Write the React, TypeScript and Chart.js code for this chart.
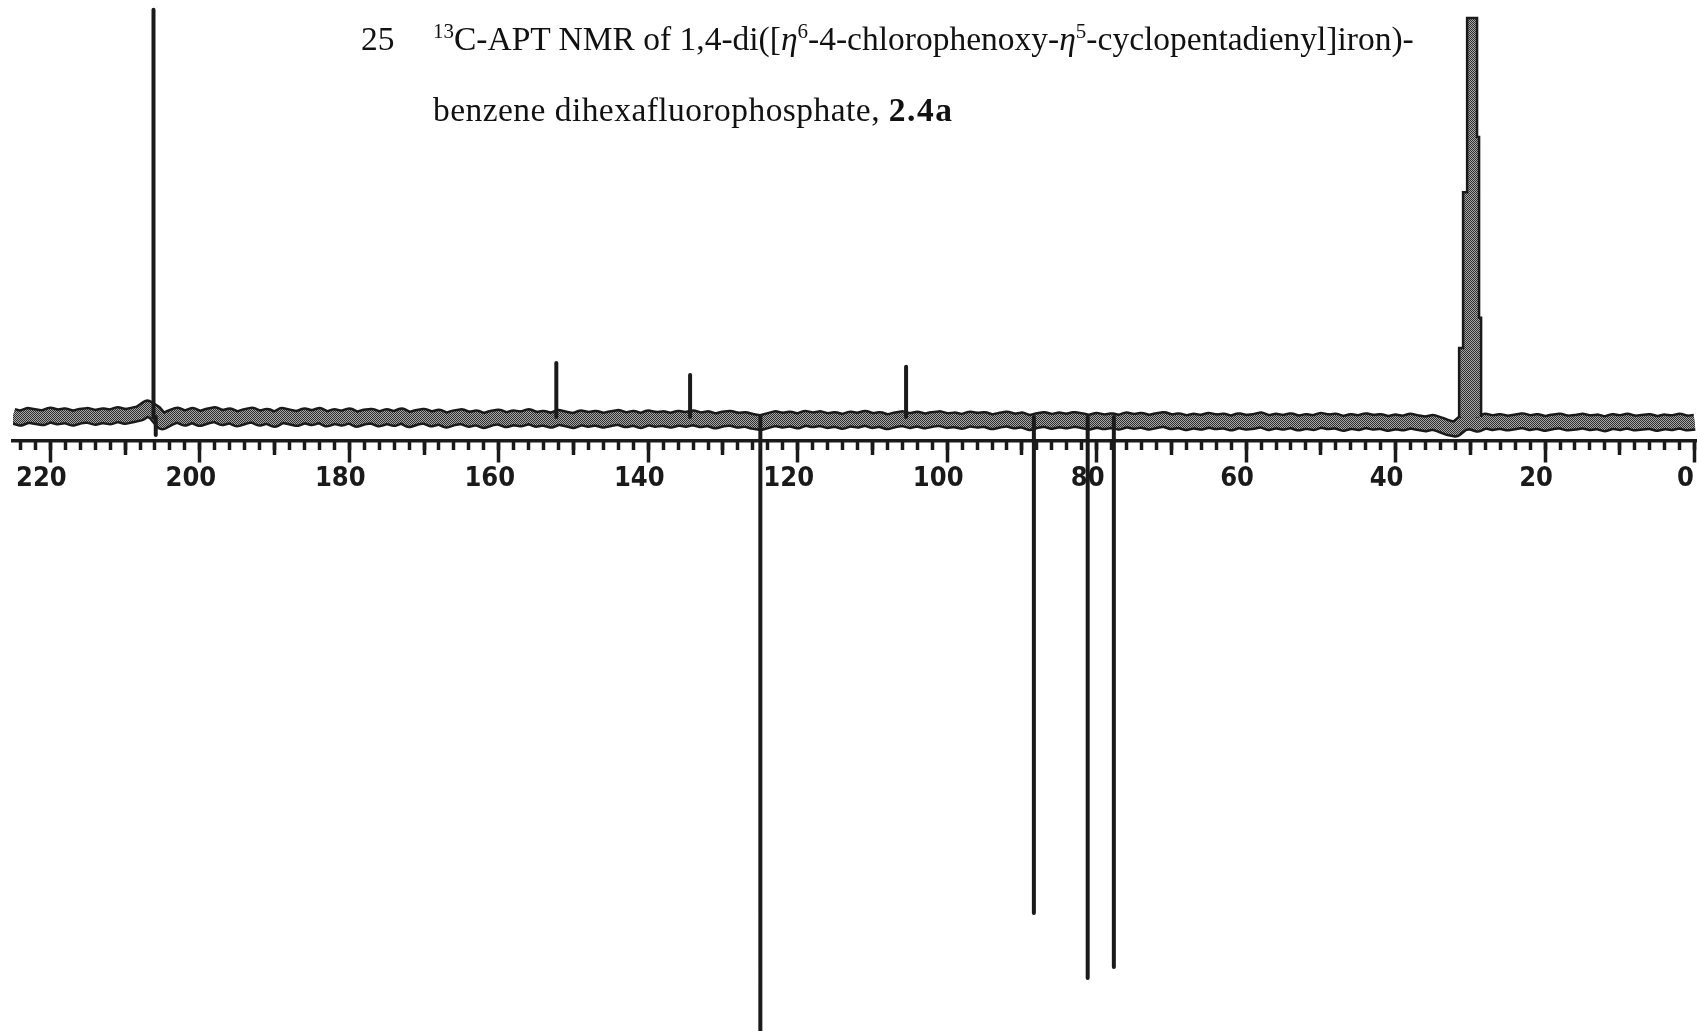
import React, { useEffect, useRef } from 'react';
import { Chart, registerables } from 'chart.js';

Chart.register(...registerables);

const WIDTH = 1697;
const HEIGHT = 1031;
const INK = '#1a1a1a';

// Chemical-shift window (ppm), plotted high field to the right
const PPM_MIN = -0.33;
const PPM_MAX = 225;
// Vertical intensity window and the level where the ppm axis is drawn
const Y_MIN = -150.5;
const Y_MAX = 102.2;
const AXIS_Y = -5.8;

// APT resonances: quaternary C up, CH down
const peakShifts = [206.2, 205.9, 152.3, 134.4, 125.0, 105.5, 88.4, 81.2, 77.7];
const peakIntensities = [99.8, -4.4, 13.2, 10.3, -155, 12.3, -121.6, -137.5, -134.8];

// acetone-d6 CD3 septet, drawn as a stepped envelope
const septetShift = [31.5, 31.5, 30.97, 30.43, 29.1, 28.83, 28.56];
const septetIntensity = [0, 16.9, 55.1, 97.8, 68.6, 24.3, 0];

// baseline trace, one reading per ppm from 225 down to 0
const baselinePpmStart = 225;
const baselineLevels = [
  0.2, -0.3, 0.4, 0.1, -0.2, 0.5, 0.0, 0.3, -0.3, 0.2,
  0.4, -0.1, 0.3, 0.0, 0.6, 0.1, 0.5, 0.9, 2.2, 1.0,
  -1.2, -0.2, 0.5, -0.3, 0.4, -0.4, 0.2, 0.6, -0.2, 0.3,
  -0.5, 0.1, 0.5, -0.3, 0.2, -0.6, 0.4, 0.0, -0.4, 0.3,
  -0.2, 0.4, -0.5, 0.1, -0.3, 0.3, -0.6, 0.0, 0.2, -0.5,
  0.1, -0.4, 0.3, -0.7, -0.1, 0.2, -0.5, 0.0, -0.8, -0.2,
  0.1, -0.6, -0.2, -0.9, -0.3, 0.0, -0.7, -0.2, -0.5, 0.1,
  -0.6, -0.3, -0.8, -0.1, -0.5, -0.9, -0.2, -0.6, -0.3, -0.8,
  -0.4, -0.1, -0.7, -0.3, -0.9, -0.2, -0.6, -0.4, -0.8, -0.3,
  -0.6, -0.2, -0.7, -0.4, -1.0, -0.5, -0.3, -0.8, -0.6, -1.1,
  -1.4, -0.9, -0.4, -0.8, -0.5, -1.0, -0.3, -0.7, -0.4, -0.9,
  -0.6, -1.1, -0.5, -0.8, -0.3, -0.9, -0.6, -1.2, -0.7, -0.4,
  -0.9, -0.5, -1.0, -0.6, -0.4, -0.9, -0.7, -1.1, -0.5, -0.8,
  -0.6, -1.2, -0.8, -0.5, -1.0, -0.7, -1.4, -0.9, -0.6, -1.1,
  -0.7, -1.0, -0.6, -0.9, -1.3, -0.8, -1.2, -0.9, -1.3, -0.7,
  -1.1, -0.8, -1.3, -0.9, -0.6, -1.2, -0.9, -1.4, -1.0, -1.3,
  -0.8, -1.2, -1.0, -1.5, -0.9, -1.3, -1.1, -0.7, -1.4, -1.0,
  -1.3, -0.9, -1.5, -1.1, -1.4, -0.8, -1.2, -1.0, -1.6, -1.1,
  -1.4, -0.9, -1.3, -1.1, -1.6, -1.2, -1.5, -1.0, -1.4, -1.7,
  -1.3, -1.9, -2.6, -3.0, -1.5, -1.2, -1.8, -1.0, -1.4, -1.1,
  -1.5, -1.2, -0.9, -1.4, -1.1, -1.6, -1.2, -1.0, -1.5, -1.3,
  -1.0, -1.4, -1.2, -1.7, -1.1, -1.4, -1.0, -1.5, -1.3, -1.1,
  -1.6, -1.2, -1.4, -1.0, -1.5, -1.3,
];

// ppm axis ticks
const majorTicks = [0, 20, 40, 60, 80, 100, 120, 140, 160, 180, 200, 220];
const midTicks = [10, 30, 50, 70, 90, 110, 130, 150, 170, 190, 210];
const minorTicks = Array.from({ length: 113 }, (_, i) => i * 2);

// grey plotter-pen stipple used for the thick trace
function makeStipple(): CanvasPattern | string {
  const c = document.createElement('canvas');
  c.width = 4;
  c.height = 4;
  const g = c.getContext('2d');
  if (!g) return '#777';
  g.fillStyle = '#a8a8a8';
  g.fillRect(0, 0, 4, 4);
  g.fillStyle = '#2e2e2e';
  const dots = [[0, 0], [2, 0], [1, 1], [3, 1], [0, 2], [2, 2], [3, 3], [1, 3]];
  dots.forEach(([x, y]) => g.fillRect(x, y, 1, 1));
  return g.createPattern(c, 'repeat') || '#777';
}

function tickAxis(ticks: number[], length: number, showLabels: boolean) {
  return {
    type: 'linear' as const,
    min: PPM_MIN,
    max: PPM_MAX,
    reverse: true,
    position: { y: AXIS_Y },
    afterBuildTicks: (axis: any) => {
      axis.ticks = ticks.map((value) => ({ value }));
    },
    grid: {
      display: true,
      drawOnChartArea: false,
      drawTicks: true,
      tickLength: length,
      tickWidth: 3.5,
      tickColor: INK,
    },
    border: { display: showLabels, color: INK, width: 3.5 },
    ticks: {
      display: showLabels,
      autoSkip: false,
      maxRotation: 0,
      minRotation: 0,
      padding: 2,
      labelOffset: -9,
      color: INK,
      font: {
        family: '"DejaVu Sans Condensed", "Liberation Sans Narrow", "DejaVu Sans", sans-serif',
        weight: 'bold' as const,
        size: 27,
      },
      callback: (v: any) => String(v),
    },
  };
}

export default function App() {
  const ref = useRef<HTMLCanvasElement>(null);

  useEffect(() => {
    const canvas = ref.current;
    if (!canvas) return;
    const stipple = makeStipple();

    const baseline = baselineLevels.map((y, i) => ({ x: baselinePpmStart - i, y }));
    const peakData: { x: number; y: number | null }[] = [];
    peakShifts.forEach((s, i) => {
      peakData.push({ x: s, y: 0 }, { x: s, y: peakIntensities[i] }, { x: s, y: null });
    });
    const septet = septetShift.map((x, i) => ({ x, y: septetIntensity[i] }));

    const chart = new Chart(canvas, {
      type: 'line',
      data: {
        datasets: [
          {
            data: peakData as any,
            borderColor: INK,
            borderWidth: 4,
            borderCapStyle: 'round',
            pointRadius: 0,
            spanGaps: false,
            order: 1,
          },
          {
            data: septet,
            stepped: 'before',
            borderColor: INK,
            borderWidth: 2.5,
            backgroundColor: stipple as any,
            fill: 'origin',
            pointRadius: 0,
            order: 2,
          },
          {
            data: baseline,
            borderColor: stipple as any,
            borderWidth: 12,
            borderJoinStyle: 'round',
            pointRadius: 0,
            order: 3,
          },
          {
            data: baseline,
            borderColor: INK,
            borderWidth: 17,
            borderJoinStyle: 'round',
            pointRadius: 0,
            order: 4,
          },
        ],
      },
      options: {
        responsive: false,
        animation: false,
        devicePixelRatio: 1,
        events: [],
        layout: { padding: { left: 13, right: 0, top: 0, bottom: 0 } },
        plugins: {
          legend: { display: false },
          tooltip: { enabled: false },
          title: { display: false },
        },
        scales: {
          x: tickAxis(majorTicks, 20, true) as any,
          xMid: tickAxis(midTicks, 14, false) as any,
          xMinor: tickAxis(minorTicks, 9, false) as any,
          y: { type: 'linear', min: Y_MIN, max: Y_MAX, display: false },
        },
      },
    });
    return () => chart.destroy();
  }, []);

  const titleFont: React.CSSProperties = {
    position: 'absolute',
    fontFamily: '"Liberation Serif", "Times New Roman", serif',
    fontSize: 33.5,
    lineHeight: '33px',
    color: '#111',
    whiteSpace: 'nowrap',
  };
  const supStyle: React.CSSProperties = { fontSize: 21, verticalAlign: '0.55em', lineHeight: 0 };

  return (
    <div style={{ position: 'absolute', left: 0, top: 0, width: WIDTH, height: HEIGHT, background: '#fff', overflow: 'hidden' }}>
      <canvas ref={ref} width={WIDTH} height={HEIGHT} style={{ position: 'absolute', left: 0, top: 0 }} />
      <div style={{ ...titleFont, left: 361, top: 22 }}>25</div>
      <div style={{ ...titleFont, left: 433, top: 22 }}>
        <span style={supStyle}>13</span>C-APT NMR of 1,4-di([<i>η</i>
        <span style={supStyle}>6</span>-4-chlorophenoxy-<i>η</i>
        <span style={supStyle}>5</span>-cyclopentadienyl]iron)-
      </div>
      <div style={{ ...titleFont, left: 433, top: 93, letterSpacing: '0.45px' }}>
        benzene dihexafluorophosphate, <b style={{ letterSpacing: '1.5px' }}>2.4a</b>
      </div>
    </div>
  );
}
